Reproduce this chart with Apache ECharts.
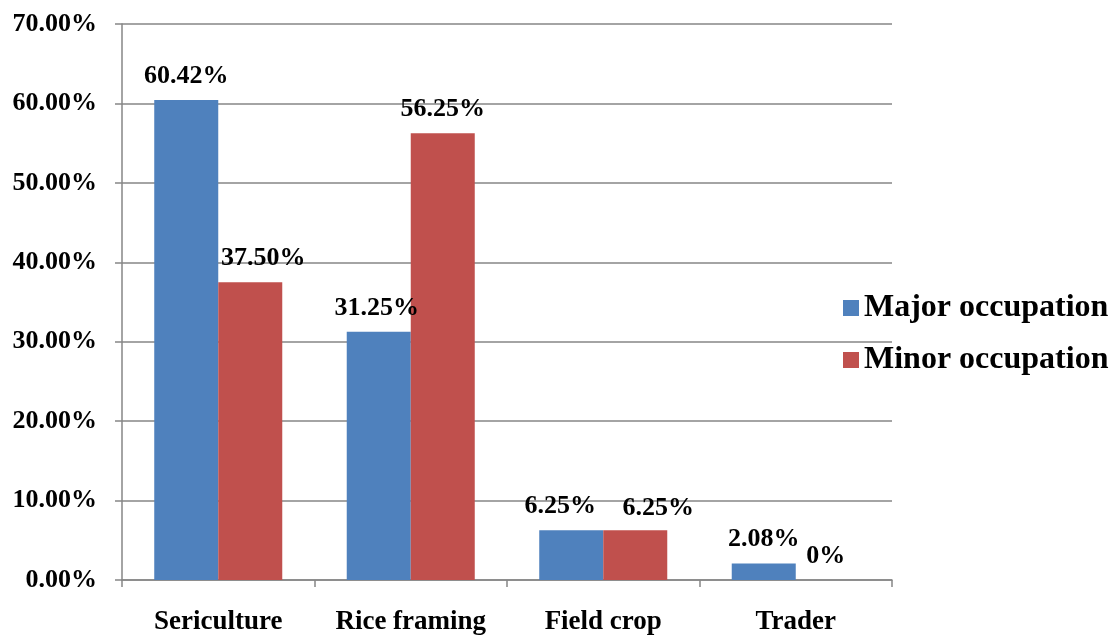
<!DOCTYPE html>
<html>
<head>
<meta charset="utf-8">
<script src="https://cdn.jsdelivr.net/npm/echarts@6/dist/echarts.min.js"></script>
<style>html,body{margin:0;padding:0;background:#fff;overflow:hidden;}#c{width:1110px;height:636px;}</style>
</head>
<body>
<div id="c"></div>
<script>
const categories = ['Sericulture', 'Rice framing', 'Field crop', 'Trader'];
const majorOccupation = [60.42, 31.25, 6.25, 2.08];
const minorOccupation = [37.50, 56.25, 6.25, 0];
const seriesNames = ['Major occupation', 'Minor occupation'];

const font = '"Liberation Serif", "Times New Roman", serif';
const fmt = v => v === 0 ? '0%' : v.toFixed(2) + '%';
const labelStyle = {
  show: true, position: 'top', distance: 11,
  fontFamily: font, fontWeight: 'bold', fontSize: 26, color: '#000',
  formatter: p => fmt(p.value)
};
// label nudges (style only)
const majorOffsets = [[0, 0], [-2, 0], [-11, 0], [0, 0]];
const minorOffsets = [[13, 0], [0, 0], [23, 2], [-2, 0]];
const chart = echarts.init(document.getElementById('c'), null, {renderer: 'canvas'});
chart.setOption({
  animation: false,
  backgroundColor: '#fff',
  grid: {left: 122, right: 218, top: 24, bottom: 52, containLabel: false},
  legend: {
    orient: 'vertical', left: 838, top: 287, itemGap: 20,
    itemWidth: 16, itemHeight: 16, icon: 'rect',
    textStyle: {fontFamily: font, fontWeight: 'bold', fontSize: 32, color: '#000'},
    data: seriesNames
  },
  xAxis: {
    type: 'category', data: categories,
    axisLine: {lineStyle: {color: '#868686', width: 1.5}},
    axisTick: {show: true, length: 7, lineStyle: {color: '#868686', width: 1.5}},
    axisLabel: {interval: 0, margin: 29, fontFamily: font, fontWeight: 'bold', fontSize: 27, color: '#000'}
  },
  yAxis: {
    type: 'value', min: 0, max: 70, interval: 10,
    axisLine: {show: true, lineStyle: {color: '#868686', width: 1.5}},
    axisTick: {show: true, length: 7, lineStyle: {color: '#868686', width: 1.5}},
    splitLine: {lineStyle: {color: '#868686', width: 1.5}},
    axisLabel: {margin: 25, fontFamily: font, fontWeight: 'bold', fontSize: 26, color: '#000',
      formatter: v => v.toFixed(2) + '%'}
  },
  series: [
    {name: seriesNames[0], type: 'bar',
      data: majorOccupation.map((v, i) => ({value: v, label: {offset: majorOffsets[i]}})),
      barGap: '0%', barCategoryGap: '33.5%',
      itemStyle: {color: '#4F81BD'}, label: labelStyle},
    {name: seriesNames[1], type: 'bar',
      data: minorOccupation.map((v, i) => ({value: v, label: {offset: minorOffsets[i]}})),
      barGap: '0%', barCategoryGap: '33.5%',
      itemStyle: {color: '#C0504D'}, label: labelStyle}
  ]
});
</script>
</body>
</html>
